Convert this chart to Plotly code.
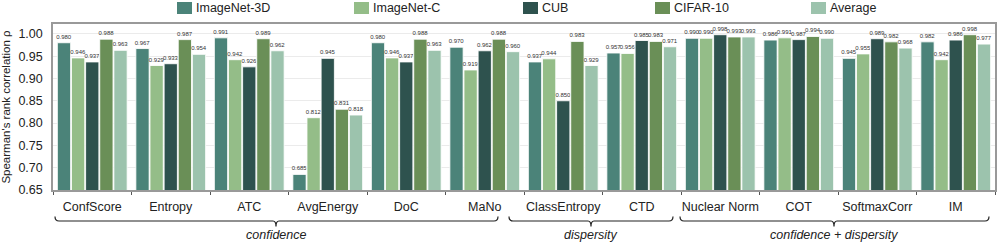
import plotly.graph_objects as go

methods = ["ConfScore", "Entropy", "ATC", "AvgEnergy", "DoC", "MaNo",
           "ClassEntropy", "CTD", "Nuclear Norm", "COT", "SoftmaxCorr", "IM"]
imagenet_3d = [0.980, 0.967, 0.991, 0.685, 0.980, 0.970, 0.937, 0.957, 0.990, 0.986, 0.945, 0.982]
imagenet_c  = [0.946, 0.929, 0.942, 0.812, 0.946, 0.919, 0.944, 0.956, 0.990, 0.991, 0.955, 0.942]
cub         = [0.937, 0.933, 0.926, 0.945, 0.937, 0.962, 0.850, 0.985, 0.998, 0.987, 0.989, 0.986]
cifar10     = [0.988, 0.987, 0.989, 0.831, 0.988, 0.988, 0.983, 0.983, 0.993, 0.994, 0.982, 0.998]
average     = [0.963, 0.954, 0.962, 0.818, 0.963, 0.960, 0.929, 0.971, 0.993, 0.990, 0.968, 0.977]

series_names = ["ImageNet-3D", "ImageNet-C", "CUB", "CIFAR-10", "Average"]
series_values = [imagenet_3d, imagenet_c, cub, cifar10, average]
colors = ["#4b8379", "#94bd88", "#2e524e", "#6a8f57", "#9cc3ad"]

groups = [("confidence", 55, 498, 276), ("dispersity", 509, 673, 591),
          ("confidence + dispersity", 680, 989, 834)]

FONT = "Liberation Sans, Arial, Helvetica, sans-serif"
L, R, T, B = 53, 2, 24, 61
W, H = 997, 251
PW, PH = W - L - R, H - T - B

def px(x):
    return (x - L) / PW

def py(y):
    return (H - B - y) / PH

fig = go.Figure()
for name, vals, col in zip(series_names, series_values, colors):
    fig.add_trace(go.Bar(
        x=methods, y=vals, name=name,
        marker=dict(color=col, line=dict(color="rgba(255,255,255,0.85)", width=1)),
        text=[f"{v:.3f}" for v in vals], textposition="outside",
        textfont=dict(size=6, color="#333", family=FONT),
        constraintext="none", cliponaxis=False, showlegend=False,
    ))

shapes = []
annotations = []
# legend (drawn manually)
leg_text_x = [194, 371, 540, 672, 828]
for name, col, tx in zip(series_names, colors, leg_text_x):
    shapes.append(dict(type="rect", xref="paper", yref="paper",
                       x0=px(tx - 17), x1=px(tx - 2), y0=py(14), y1=py(2),
                       fillcolor=col, line=dict(width=0)))
    annotations.append(dict(text=name, xref="paper", yref="paper", x=px(tx), y=py(8),
                            xanchor="left", yanchor="middle", showarrow=False,
                            font=dict(size=12.5, color="#222", family=FONT)))

# braces
yt, yh, yb = 216.5, 221, 226.5
for label, x0, x1, xc in groups:
    path = (f"M {px(x0)} {py(yt)} Q {px(x0)} {py(yh)} {px(x0 + 4)} {py(yh)} "
            f"L {px(xc - 3)} {py(yh)} Q {px(xc)} {py(yh)} {px(xc)} {py(yb)} "
            f"Q {px(xc)} {py(yh)} {px(xc + 3)} {py(yh)} "
            f"L {px(x1 - 4)} {py(yh)} Q {px(x1)} {py(yh)} {px(x1)} {py(yt)}")
    shapes.append(dict(type="path", xref="paper", yref="paper", path=path,
                       line=dict(color="#222", width=1.2)))
    annotations.append(dict(text=f"<i>{label}</i>", xref="paper", yref="paper",
                            x=px(xc), y=py(235), xanchor="center", yanchor="middle",
                            showarrow=False, font=dict(size=12.5, color="#222", family=FONT)))

fig.update_layout(
    width=W, height=H, margin=dict(l=L, r=R, t=T, b=B, autoexpand=False),
    barmode="group", bargap=0.1, bargroupgap=0.06,
    plot_bgcolor="white", paper_bgcolor="white",
    font=dict(family=FONT, color="#222"),
    shapes=shapes, annotations=annotations, showlegend=False,
)
fig.update_xaxes(
    showline=True, linecolor="#999", linewidth=1.5, mirror=True,
    ticks="outside", tickson="boundaries", ticklen=3, tickcolor="#555",
    tickfont=dict(size=12.5, color="#222", family=FONT), ticklabelstandoff=4,
    tickangle=0, automargin=False, showgrid=False,
)
fig.update_yaxes(
    range=[0.65, 1.022], tickvals=[0.65, 0.70, 0.75, 0.80, 0.85, 0.90, 0.95, 1.00],
    tickformat=".2f", showgrid=True, gridcolor="#ebebeb", gridwidth=1,
    showline=True, linecolor="#999", linewidth=1.5, mirror=True, ticks="",
    tickfont=dict(size=12.5, color="#222", family=FONT), ticklabelstandoff=6,
    title=dict(text="Spearman's rank correlation ρ", font=dict(size=11.5, family=FONT, color="#222"),
               standoff=6),
    zeroline=False, automargin=False,
)
fig.write_html("out.html", config={"displayModeBar": False},
               post_script="document.body.style.margin='0';document.body.style.overflow='hidden';")
